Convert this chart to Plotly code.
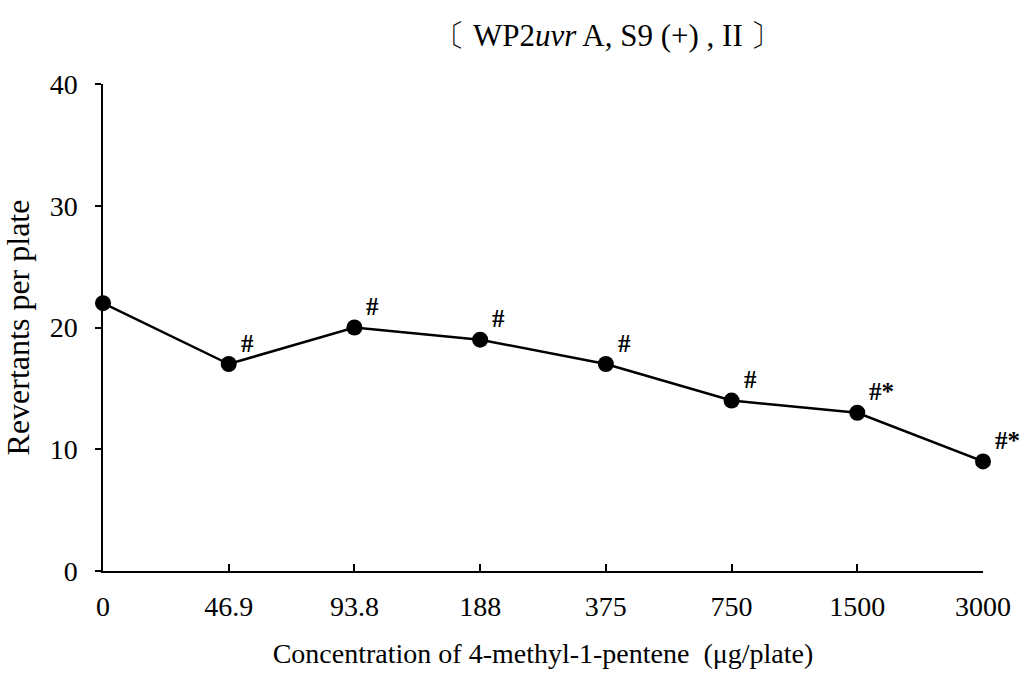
import plotly.graph_objects as go

concentrations = ["0", "46.9", "93.8", "188", "375", "750", "1500", "3000"]
revertants = [22, 17, 20, 19, 17, 14, 13, 9]
marks = ["", "#", "#", "#", "#", "#", "#*", "#*"]
y_ticks = [0, 10, 20, 30, 40]

xpos = list(range(len(concentrations)))
serif = "Liberation Serif, Times New Roman, serif"

fig = go.Figure()
fig.add_trace(go.Scatter(
    x=xpos, y=revertants, mode="lines+markers",
    line=dict(color="black", width=2.5),
    marker=dict(color="black", size=16),
    cliponaxis=False, showlegend=False,
))

for xi, yi, m in zip(xpos, revertants, marks):
    if m:
        fig.add_annotation(x=xi, y=yi, xref="x", yref="y", text="<b>" + m + "</b>",
                           showarrow=False, xanchor="left", yanchor="middle",
                           xshift=10, yshift=21,
                           font=dict(family=serif, size=25, color="black"))

fig.update_layout(
    width=1032, height=683,
    margin=dict(l=103, r=49, t=84, b=112),
    paper_bgcolor="white", plot_bgcolor="white",
    font=dict(family=serif, color="black"),
    title=dict(text="〔 WP2<i>uvr</i> A, S9 (+) , II 〕", x=0.589, xanchor="center",
               y=0.949, yanchor="middle", font=dict(family=serif, size=31, color="black")),
)
fig.update_xaxes(
    range=[0, 7], tickvals=xpos, ticktext=concentrations,
    showline=True, linecolor="black", linewidth=1.5,
    ticks="inside", ticklen=7, tickcolor="black", tickwidth=1.5,
    showgrid=False, zeroline=False, ticklabelstandoff=10,
    tickfont=dict(family=serif, size=28, color="black"),
    title=dict(text="Concentration of 4-methyl-1-pentene  (μg/plate)",
               font=dict(family=serif, size=28, color="black"), standoff=22),
)
fig.update_yaxes(
    range=[0, 40], tickvals=y_ticks,
    showline=True, linecolor="black", linewidth=1.5,
    ticks="outside", ticklen=6, tickcolor="black", tickwidth=1.5,
    showgrid=False, zeroline=False, ticklabelstandoff=12,
    tickfont=dict(family=serif, size=28, color="black"),
    title=dict(text="Revertants per plate",
               font=dict(family=serif, size=32, color="black"), standoff=10),
)

fig.write_html("out.html", config={"displayModeBar": False},
               post_script="document.body.style.margin='0';")
